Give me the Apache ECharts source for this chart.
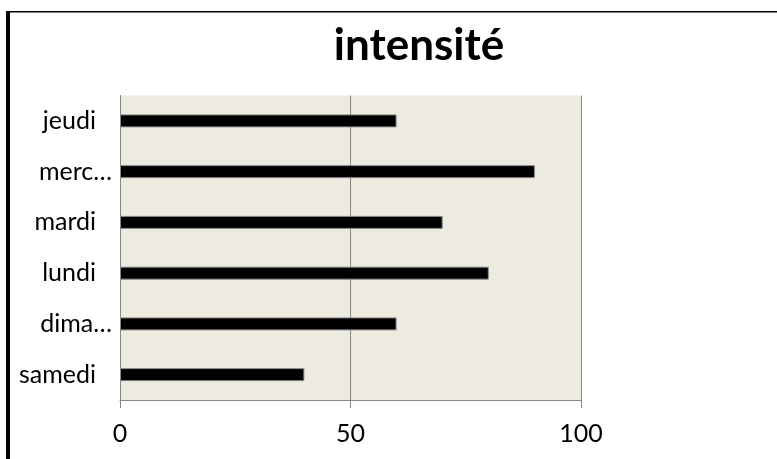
<!DOCTYPE html>
<html>
<head>
<meta charset="utf-8">
<script src="https://cdn.jsdelivr.net/npm/echarts@6/dist/echarts.min.js"></script>
<style>
  html, body { margin: 0; padding: 0; background: #fff; }
  #chart { width: 777px; height: 459px; }
</style>
</head>
<body>
<div id="chart"></div>
<script>
// Days of the week, bottom to top
const days = ['samedi', 'dimanche', 'lundi', 'mardi', 'mercredi', 'jeudi'];
// Labels as shown on the axis (long names are cut short)
const dayLabels = ['samedi', 'dima…', 'lundi', 'mardi', 'merc…', 'jeudi'];
// Intensity per day
const intensite = [40, 60, 80, 70, 90, 60];
// Value-axis ticks
const xTicks = [0, 50, 100];

const font = 'Lato, "Open Sans", sans-serif';
const grey = '#868686';

const chart = echarts.init(document.getElementById('chart'), null, { renderer: 'canvas' });

chart.setOption({
  animation: false,
  backgroundColor: '#ffffff',
  title: {
    text: 'intensité',
    left: 414,
    textAlign: 'center',
    top: 19,
    textStyle: { fontFamily: font, fontWeight: 'bold', fontSize: 44, color: '#000' }
  },
  graphic: [
    { type: 'rect', shape: { x: 6, y: 11, width: 4, height: 460 }, style: { fill: '#000' } },
    { type: 'rect', shape: { x: 6, y: 11, width: 780, height: 1.5 }, style: { fill: '#000' } }
  ],
  grid: {
    left: 120,
    right: 196,
    top: 95.5,
    bottom: 59,
    show: true,
    backgroundColor: '#EDEAE0',
    borderWidth: 0
  },
  xAxis: {
    type: 'value',
    min: xTicks[0],
    max: xTicks[xTicks.length - 1],
    interval: xTicks[1] - xTicks[0],
    axisLine: { show: true, lineStyle: { color: grey, width: 1 } },
    axisTick: { show: true, length: 8, lineStyle: { color: grey } },
    splitLine: { show: true, lineStyle: { color: grey, width: 1 } },
    axisLabel: { margin: 21, fontFamily: font, fontSize: 25, color: '#000' }
  },
  yAxis: {
    type: 'category',
    data: days,
    axisLine: { show: true, lineStyle: { color: grey, width: 1 } },
    axisTick: { show: false },
    splitLine: { show: false },
    axisLabel: {
      margin: 8,
      fontFamily: font,
      fontSize: 25,
      color: '#000',
      formatter: function (v, i) {
        const t = dayLabels[i];
        return t.endsWith('…') ? '{a|' + t + '}' : '{a|' + t + '}{p|}';
      },
      rich: {
        a: { fontFamily: font, fontSize: 25, color: '#000' },
        p: { width: 16 }
      }
    }
  },
  series: [{
    type: 'bar',
    data: intensite,
    barWidth: 13,
    itemStyle: { color: '#000', borderColor: '#8a8a8a', borderWidth: 1 }
  }]
});
</script>
</body>
</html>
